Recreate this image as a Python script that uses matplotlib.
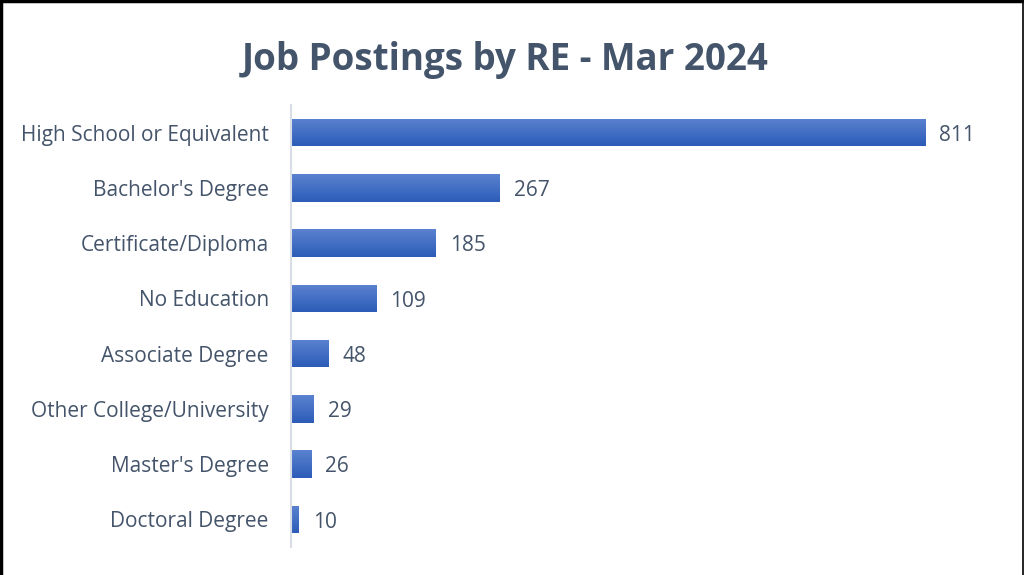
import matplotlib.pyplot as plt
import numpy as np
from matplotlib.lines import Line2D
from matplotlib.colors import LinearSegmentedColormap

categories = ["High School or Equivalent", "Bachelor's Degree", "Certificate/Diploma",
              "No Education", "Associate Degree", "Other College/University",
              "Master's Degree", "Doctoral Degree"]
postings = [811, 267, 185, 109, 48, 29, 26, 10]
title = "Job Postings by RE - Mar 2024"

text_color = "#44546a"
plt.rcParams["font.family"] = ["Open Sans", "DejaVu Sans"]

fig = plt.figure(figsize=(10.24, 5.75), dpi=100)
ax = fig.add_axes([291 / 1024, 1 - 547 / 575, 688 / 1024, 442 / 575])

y = np.arange(len(categories))
bars = ax.barh(y, postings, height=0.5, color="#3f6cc6")

# vertical gradient inside each bar (lighter on top, darker at bottom)
grad = np.linspace(0, 1, 64).reshape(-1, 1)
cmap = LinearSegmentedColormap.from_list("bar", ["#5b82d0", "#2c5cb8"])
for b in bars:
    x0, y0 = b.get_x(), b.get_y()
    w, h = b.get_width(), b.get_height()
    im = ax.imshow(grad, cmap=cmap, aspect="auto", extent=(x0, x0 + w, y0 + h, y0),
                   origin="upper", zorder=2)
    im.set_clip_path(b)

for yi, v in zip(y, postings):
    ax.text(v + 18, yi + 0.05, str(v), va="center", ha="left", fontsize=15, color=text_color)

ax.set_xlim(0, 880)
ax.set_ylim(len(categories) - 0.5, -0.5)
ax.set_yticks(y)
ax.set_yticklabels(categories, fontsize=15, color=text_color)
ax.tick_params(axis="y", length=0, pad=16)
ax.set_xticks([])
for s in ["top", "right", "bottom"]:
    ax.spines[s].set_visible(False)
ax.spines["left"].set_color("#d9dde6")
ax.spines["left"].set_linewidth(1.5)

fig.text(505 / 1024, 1 - 60 / 575, title, ha="center", va="center",
         fontsize=26.5, fontweight="bold", color=text_color)

# outer frame: top, left and right edges
fig.add_artist(Line2D([0.001, 0.001], [0, 1], transform=fig.transFigure, color="black", lw=2.5))
fig.add_artist(Line2D([0, 1], [0.998, 0.998], transform=fig.transFigure, color="black", lw=2.5))
fig.add_artist(Line2D([1022.5 / 1024, 1022.5 / 1024], [0, 1], transform=fig.transFigure, color="black", lw=1.2))

fig.savefig("out.png", dpi=100)
